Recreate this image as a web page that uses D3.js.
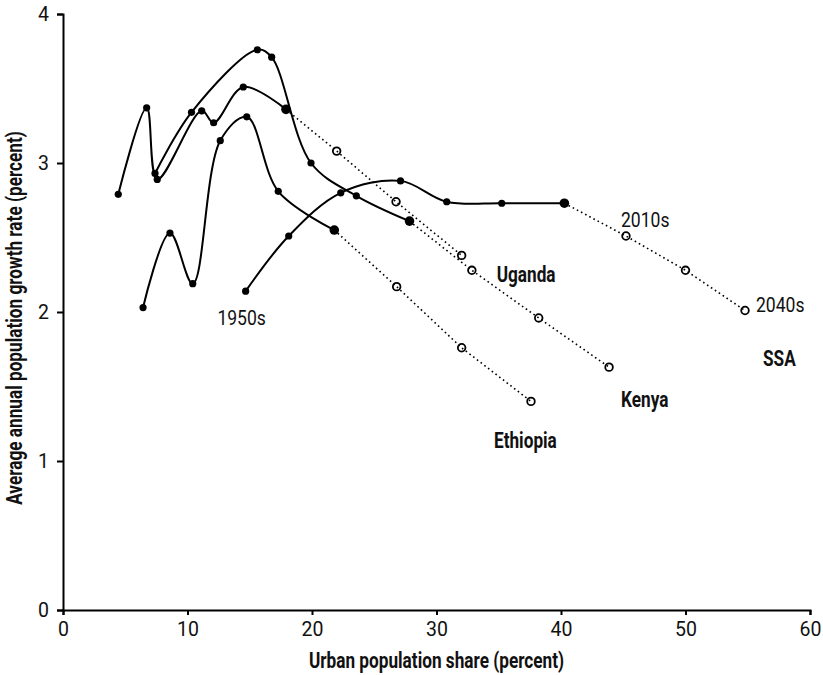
<!DOCTYPE html>
<html>
<head>
<meta charset="utf-8">
<script src="https://cdn.jsdelivr.net/npm/d3@7"></script>
<style>
  body { margin: 0; background: #fff; }
  text { fill: #111; }
  .tick text, .note { font-family: Roboto, "Liberation Sans", Arial, sans-serif; font-size: 19.5px; }
  .bold { font-family: Roboto, "Liberation Sans", Arial, sans-serif; font-weight: bold; font-size: 21.5px; }
</style>
</head>
<body>
<svg id="chart" width="823" height="675"></svg>
<script>
// Axis ticks
const xTicks = [0, 10, 20, 30, 40, 50, 60];
const yTicks = [0, 1, 2, 3, 4];

// Observed decades: urban population share (%) and average annual population growth (%)
const ssaShare      = [14.67, 18.13, 22.31, 27.11, 30.82, 35.24, 40.27];
const ssaGrowth     = [2.14, 2.51, 2.80, 2.88, 2.74, 2.73, 2.73];
const ugandaShare   = [4.44, 6.72, 7.57, 11.14, 12.10, 14.48, 17.91];
const ugandaGrowth  = [2.79, 3.37, 2.89, 3.35, 3.27, 3.51, 3.36];
const kenyaShare    = [7.39, 10.32, 15.61, 16.76, 19.92, 23.56, 27.83];
const kenyaGrowth   = [2.93, 3.34, 3.76, 3.71, 3.00, 2.78, 2.61];
const ethiopiaShare = [6.43, 8.59, 10.42, 12.63, 14.76, 17.29, 21.79];
const ethiopiaGrowth= [2.03, 2.53, 2.19, 3.15, 3.31, 2.81, 2.55];

// Projected decades
const ssaProjShare      = [45.22, 50.00, 54.78];
const ssaProjGrowth     = [2.51, 2.28, 2.01];
const ugandaProjShare   = [21.98, 26.75, 32.02];
const ugandaProjGrowth  = [3.08, 2.74, 2.38];
const kenyaProjShare    = [32.84, 38.21, 43.86];
const kenyaProjGrowth   = [2.28, 1.96, 1.63];
const ethiopiaProjShare = [26.80, 32.02, 37.59];
const ethiopiaProjGrowth= [2.17, 1.76, 1.40];

const zip = (xs, ys) => xs.map((x, i) => ({ x, y: ys[i] }));
const series = [
  { name: "SSA",      obs: zip(ssaShare, ssaGrowth),           proj: zip(ssaProjShare, ssaProjGrowth),           label: [18, 55] },
  { name: "Uganda",   obs: zip(ugandaShare, ugandaGrowth),     proj: zip(ugandaProjShare, ugandaProjGrowth),     label: [35, 27] },
  { name: "Kenya",    obs: zip(kenyaShare, kenyaGrowth),       proj: zip(kenyaProjShare, kenyaProjGrowth),       label: [12, 40] },
  { name: "Ethiopia", obs: zip(ethiopiaShare, ethiopiaGrowth), proj: zip(ethiopiaProjShare, ethiopiaProjGrowth), label: [-37, 47] }
];

const svg = d3.select("#chart");
const x = d3.scaleLinear().domain([0, 60]).range([63, 810]);
const y = d3.scaleLinear().domain([0, 4]).range([610, 14]);

// Narrow the set width of a caption by a factor
const condense = k => sel => sel.each(function () {
  const w = this.getComputedTextLength();
  d3.select(this).attr("textLength", w * k).attr("lengthAdjust", "spacingAndGlyphs");
});

// Axes
const xAxis = svg.append("g")
  .attr("transform", `translate(0,${y(0)})`)
  .call(d3.axisBottom(x).tickValues(xTicks).tickSize(5).tickPadding(7).tickFormat(d3.format("d")));
const yAxis = svg.append("g")
  .attr("transform", `translate(${x(0)},0)`)
  .call(d3.axisLeft(y).tickValues(yTicks).tickSize(6).tickPadding(8).tickFormat(d3.format("d")));
[xAxis, yAxis].forEach(g => {
  g.select(".domain").attr("stroke", "#000").attr("stroke-width", 2);
  g.selectAll(".tick line").attr("stroke", "#000").attr("stroke-width", 2);
  g.selectAll(".tick text").attr("fill", "#111");
});

// Axis titles
svg.append("text").attr("class", "bold")
  .attr("x", (x(0) + x(60)) / 2).attr("y", 668)
  .attr("text-anchor", "middle")
  .text("Urban population share (percent)")
  .call(condense(0.8));
svg.append("text").attr("class", "bold")
  .attr("transform", `translate(22,318) rotate(-90)`)
  .attr("text-anchor", "middle")
  .text("Average annual population growth rate (percent)")
  .call(condense(0.8));

const smooth = d3.line().x(d => x(d.x)).y(d => y(d.y)).curve(d3.curveCatmullRom.alpha(0.5));
const straight = d3.line().x(d => x(d.x)).y(d => y(d.y));

series.forEach(s => {
  const last = s.obs[s.obs.length - 1];
  // projection path (dotted)
  svg.append("path")
    .attr("d", straight([last, ...s.proj]))
    .attr("fill", "none").attr("stroke", "#000")
    .attr("stroke-width", 1.6).attr("stroke-dasharray", "1.6 3.1");
  // observed path (smoothed)
  svg.append("path")
    .attr("d", smooth(s.obs))
    .attr("fill", "none").attr("stroke", "#000").attr("stroke-width", 2);
});

series.forEach(s => {
  svg.append("g").selectAll("circle").data(s.obs).join("circle")
    .attr("cx", d => x(d.x)).attr("cy", d => y(d.y))
    .attr("r", (d, i) => i === s.obs.length - 1 ? 4.8 : 3.6)
    .attr("fill", "#000");
  svg.append("g").selectAll("circle").data(s.proj).join("circle")
    .attr("cx", d => x(d.x)).attr("cy", d => y(d.y))
    .attr("r", 3.8)
    .attr("fill", "none").attr("stroke", "#000").attr("stroke-width", 1.8);

  const end = s.proj[s.proj.length - 1];
  svg.append("text").attr("class", "bold")
    .attr("x", x(end.x) + s.label[0]).attr("y", y(end.y) + s.label[1])
    .text(s.name)
    .call(condense(0.8));
});

// Decade annotations on the SSA path
const ssa = series[0];
svg.append("text").attr("class", "note")
  .attr("x", x(ssa.obs[0].x) - 4).attr("y", y(ssa.obs[0].y) + 34)
  .attr("text-anchor", "middle").text("1950s")
  .call(condense(0.9));
svg.append("text").attr("class", "note")
  .attr("x", x(ssa.proj[0].x) - 5).attr("y", y(ssa.proj[0].y) - 9)
  .text("2010s")
  .call(condense(0.9));
svg.append("text").attr("class", "note")
  .attr("x", x(ssa.proj[2].x) + 11).attr("y", y(ssa.proj[2].y) + 1)
  .text("2040s")
  .call(condense(0.9));
</script>
</body>
</html>
